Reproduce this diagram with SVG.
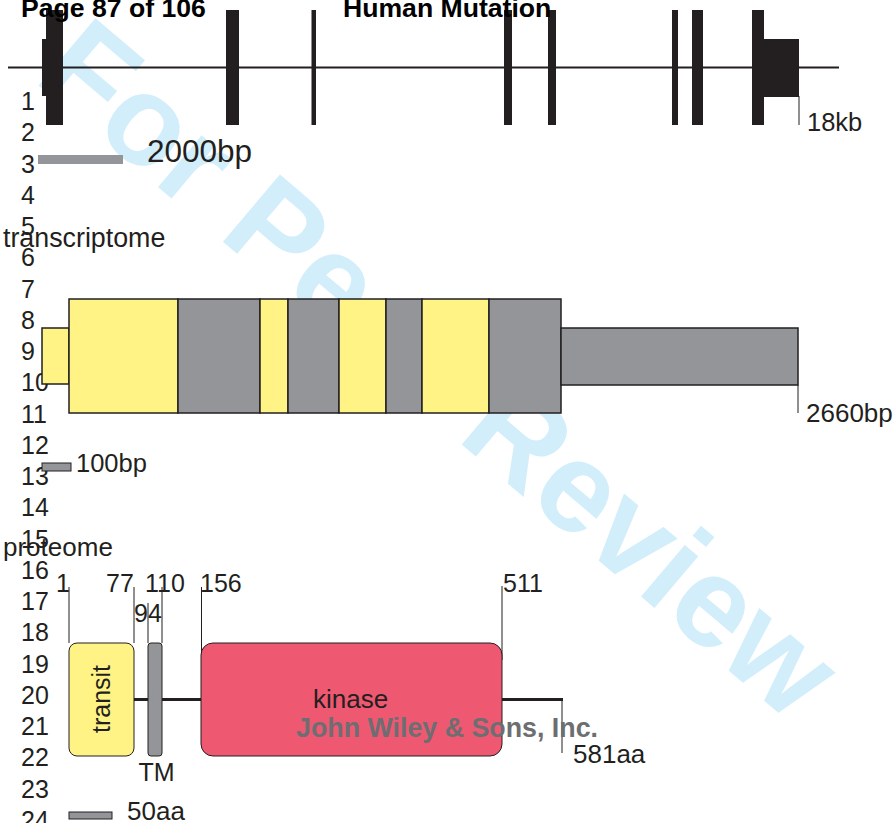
<svg xmlns="http://www.w3.org/2000/svg" width="894" height="823" viewBox="0 0 894 823">
<style>
text{font-family:"Liberation Sans",Arial,sans-serif;fill:#231f20}
.hdr{font-weight:bold;font-size:26.6px;fill:#000}
.num{font-size:25px}
.lbl{font-size:26px}
.pos{font-size:25px}
.ex{fill:#231f20}
.y{fill:#fff385;stroke:#231f20;stroke-width:1.5}
.g{fill:#939598;stroke:#231f20;stroke-width:1.5}
.tk{stroke:#231f20;stroke-width:1;fill:none}
.bb{stroke:#231f20;stroke-width:3;fill:none}
</style>
<rect width="894" height="823" fill="#fff"/>
<text transform="translate(32,80) rotate(40.3)" style="font-weight:bold;font-size:128px;fill:#d2eefb">For Peer Review</text>

<g id="line-numbers" class="num">
<text x="21" y="110">1</text><text x="21" y="141.3">2</text><text x="21" y="172.5">3</text><text x="21" y="203.8">4</text>
<text x="21" y="235">5</text><text x="21" y="266.3">6</text><text x="21" y="297.5">7</text><text x="21" y="328.8">8</text>
<text x="21" y="360">9</text><text x="21" y="391.3">10</text><text x="21" y="422.5">11</text><text x="21" y="453.8">12</text>
<text x="21" y="485">13</text><text x="21" y="516.3">14</text><text x="21" y="547.5">15</text><text x="21" y="578.8">16</text>
<text x="21" y="610">17</text><text x="21" y="641.3">18</text><text x="21" y="672.5">19</text><text x="21" y="703.8">20</text>
<text x="21" y="735">21</text><text x="21" y="766.3">22</text><text x="21" y="797.5">23</text><text x="21" y="828.8">24</text>
</g>

<g id="gene">
<line x1="8" y1="67.5" x2="839" y2="67.5" stroke="#231f20" stroke-width="2"/>
<rect class="ex" x="42" y="39" width="5" height="57"/>
<rect class="ex" x="46" y="10" width="17" height="115"/>
<rect class="ex" x="226" y="10" width="13" height="115"/>
<rect class="ex" x="311.5" y="10" width="4.5" height="115"/>
<rect class="ex" x="504" y="10" width="8" height="115"/>
<rect class="ex" x="548" y="10" width="8" height="115"/>
<rect class="ex" x="672" y="10" width="6" height="115"/>
<rect class="ex" x="692" y="10" width="11" height="115"/>
<rect class="ex" x="752" y="10" width="12" height="115"/>
<rect class="ex" x="763" y="39" width="36" height="58"/>
<line class="tk" x1="799" y1="96" x2="799" y2="125"/>
<text class="lbl" x="807" y="131" style="font-size:25.5px">18kb</text>
</g>

<g id="gene-scale">
<rect x="38" y="155" width="85" height="9" fill="#939598"/>
<text x="147" y="162" style="font-size:31.5px">2000bp</text>
</g>

<g id="headers">
<text class="hdr" x="21" y="17">Page 87 of 106</text>
<text class="hdr" x="343" y="17">Human Mutation</text>
</g>

<text id="transcriptome-label" class="lbl" x="3" y="247" style="font-size:26.8px">transcriptome</text>

<g id="transcript">
<rect class="y" x="42" y="328" width="27" height="56"/>
<rect class="y" x="69" y="299" width="109" height="114"/>
<rect class="g" x="178" y="299" width="82" height="114"/>
<rect class="y" x="260" y="299" width="28" height="114"/>
<rect class="g" x="288" y="299" width="51" height="114"/>
<rect class="y" x="339" y="299" width="47" height="114"/>
<rect class="g" x="386" y="299" width="36" height="114"/>
<rect class="y" x="422" y="299" width="67" height="114"/>
<rect class="g" x="489" y="299" width="72" height="114"/>
<rect class="g" x="561" y="328" width="237" height="57"/>
<line class="tk" x1="798" y1="385" x2="798" y2="413"/>
<text class="lbl" x="806" y="422">2660bp</text>
</g>

<g id="transcript-scale">
<rect x="42" y="463" width="29" height="8" fill="#939598" stroke="#231f20" stroke-width="1"/>
<text x="76" y="472" style="font-size:25.5px">100bp</text>
</g>

<text id="proteome-label" class="lbl" x="3" y="556">proteome</text>

<g id="connectors">
<line class="tk" x1="69" y1="587" x2="69" y2="643"/>
<line class="tk" x1="134" y1="587" x2="134" y2="643"/>
<line class="tk" x1="148" y1="603" x2="148" y2="643"/>
<line class="tk" x1="162" y1="587" x2="162" y2="643"/>
<line class="tk" x1="201.5" y1="587" x2="201.5" y2="660"/>
<line class="tk" x1="502" y1="586" x2="502" y2="660"/>
<line class="bb" x1="134" y1="699.5" x2="148" y2="699.5"/>
<line class="bb" x1="162" y1="699.5" x2="201" y2="699.5"/>
<line class="bb" x1="502" y1="699.5" x2="563" y2="699.5"/>
<line class="tk" x1="562" y1="699" x2="562" y2="753"/>
</g>

<g id="positions" class="pos">
<text x="56" y="592">1</text>
<text x="106" y="592">77</text>
<text x="145" y="592">110</text>
<text x="200" y="592">156</text>
<text x="134" y="622">94</text>
<text x="503" y="592">511</text>
</g>

<g id="transit">
<rect x="69" y="643" width="65" height="113" rx="8" fill="#fff385" stroke="#231f20" stroke-width="1"/>
<text transform="translate(110,699) rotate(-90)" text-anchor="middle" class="pos">transit</text>
</g>

<g id="tm">
<rect x="148" y="643" width="14" height="113" rx="3" fill="#939598" stroke="#231f20" stroke-width="1"/>
<text x="138.5" y="781" class="pos">TM</text>
</g>

<g id="kinase">
<rect x="201" y="643" width="301" height="113" rx="12" fill="#ef5871" stroke="#231f20" stroke-width="1"/>
<text x="313" y="708" class="lbl">kinase</text>
</g>

<text id="end-label" class="lbl" x="573" y="763">581aa</text>

<text id="publisher" x="296" y="737" style="font-weight:bold;font-size:26.8px;fill:#6d6e71">John Wiley &amp; Sons, Inc.</text>

<g id="protein-scale">
<rect x="69" y="812" width="43" height="7" fill="#939598" stroke="#231f20" stroke-width="1"/>
<text x="127" y="820" class="lbl">50aa</text>
</g>
</svg>
